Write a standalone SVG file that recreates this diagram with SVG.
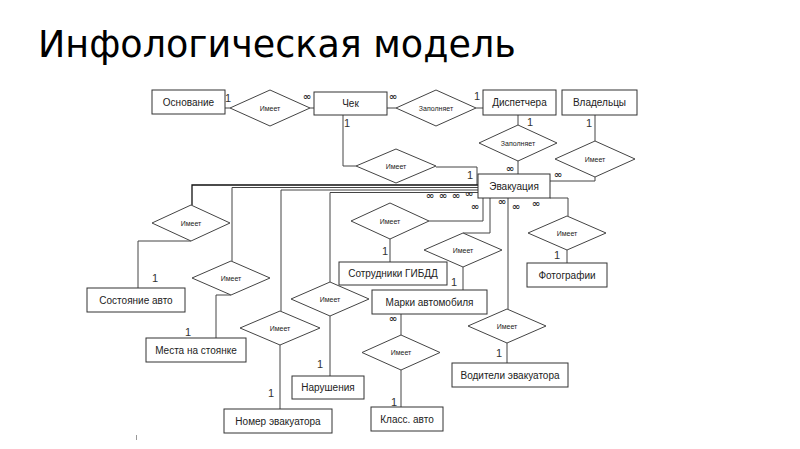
<svg xmlns="http://www.w3.org/2000/svg" width="800" height="449" viewBox="0 0 800 449">
<style>
.ent rect{fill:#fff;stroke:#333;stroke-width:1}
.ent text{font-family:"Liberation Sans",Arial,sans-serif;font-size:10px;fill:#222;text-anchor:middle}
.rel polygon{fill:#fff;stroke:#444;stroke-width:1}
.rel text{font-family:"Liberation Sans",Arial,sans-serif;font-size:7px;fill:#222;text-anchor:middle}
#connectors path{fill:none;stroke:#444;stroke-width:1}
.card{font-family:"Liberation Sans",Arial,sans-serif;font-size:11px;fill:#333;text-anchor:middle}
.many{font-family:"DejaVu Sans",sans-serif;font-size:10px;font-weight:bold;fill:#333;text-anchor:middle}
</style>
<rect width="800" height="449" fill="#fff"/>
<text x="38" y="57" font-family="DejaVu Sans, sans-serif" font-size="36.5" fill="#000">Инфологическая модель</text>

<g id="connectors">
<path d="M225,108 H230"/>
<path d="M310,108 H314"/>
<path d="M387,108 H396"/>
<path d="M476,108 H483"/>
<path d="M518,115 V125"/>
<path d="M518,161 V174"/>
<path d="M595,115 V141"/>
<path d="M595,177 V181 H550"/>
<path d="M343,115 V166 H356"/>
<path d="M436,167 H477 V185"/>
<path d="M478,185 H192 V205" style="stroke:#111;stroke-width:1.3"/>
<path d="M191,241 H138 V288"/>
<path d="M478,187.5 H232 V261"/>
<path d="M231,295 H216 V338"/>
<path d="M478,190 H281 V311"/>
<path d="M280,345 V409"/>
<path d="M478,192.5 H330 V282"/>
<path d="M330,316 V376"/>
<path d="M483,198 V221 H429"/>
<path d="M390,239 V262"/>
<path d="M490,198 V233 H463"/>
<path d="M463,267 V290"/>
<path d="M508,198 V309"/>
<path d="M507,343 V363"/>
<path d="M550,198 H568 V216"/>
<path d="M567,250 V263"/>
<path d="M401,314 V335"/>
<path d="M401,370 V407"/>
<path d="M136.5,435 V440" style="stroke:#999"/>
</g>

<g id="osnovanie" class="ent"><rect x="152" y="90" width="73" height="24"/><text x="188.5" y="105.5">Основание</text></g>
<g id="chek" class="ent"><rect x="314" y="92" width="73" height="23"/><text x="350.5" y="107">Чек</text></g>
<g id="dispetchera" class="ent"><rect x="483" y="90" width="73" height="25"/><text x="519.5" y="106">Диспетчера</text></g>
<g id="vladeltsy" class="ent"><rect x="562" y="90" width="75" height="25"/><text x="599.5" y="106">Владельцы</text></g>
<g id="evakuatsiya" class="ent"><rect x="478" y="174" width="72" height="24"/><text x="514" y="189.5">Эвакуация</text></g>
<g id="sotrudniki" class="ent"><rect x="339" y="262" width="108" height="23"/><text x="393" y="277">Сотрудники ГИБДД</text></g>
<g id="fotografii" class="ent"><rect x="527" y="263" width="80" height="24"/><text x="567" y="278.5">Фотографии</text></g>
<g id="marki" class="ent"><rect x="372" y="290" width="115" height="24"/><text x="429.5" y="305.5">Марки автомобиля</text></g>
<g id="klass" class="ent"><rect x="371" y="407" width="72" height="24"/><text x="407" y="422.5">Класс. авто</text></g>
<g id="voditeli" class="ent"><rect x="452" y="363" width="116" height="24"/><text x="510" y="378.5">Водители эвакуатора</text></g>
<g id="narusheniya" class="ent"><rect x="292" y="376" width="72" height="23"/><text x="328" y="391">Нарушения</text></g>
<g id="nomer" class="ent"><rect x="224" y="409" width="108" height="24"/><text x="278" y="424.5">Номер эвакуатора</text></g>
<g id="mesta" class="ent"><rect x="146" y="338" width="100" height="24"/><text x="196" y="353.5">Места на стоянке</text></g>
<g id="sostoyanie" class="ent"><rect x="87" y="288" width="98" height="24"/><text x="136" y="303.5">Состояние авто</text></g>

<g id="r1" class="rel"><polygon points="230,108 270,90 310,108 270,126"/><text x="270" y="110.5">Имеет</text></g>
<g id="r2" class="rel"><polygon points="396,108 436,90 476,108 436,126"/><text x="436" y="110.5">Заполняет</text></g>
<g id="r3" class="rel"><polygon points="479,143 518,125 557,143 518,161"/><text x="518" y="145.5">Заполняет</text></g>
<g id="r4" class="rel"><polygon points="555,159 595,141 635,159 595,177"/><text x="595" y="161.5">Имеет</text></g>
<g id="r5" class="rel"><polygon points="356,166 396,149 436,166 396,183"/><text x="396" y="168.5">Имеет</text></g>
<g id="r6" class="rel"><polygon points="152,223 191,205 230,223 191,241"/><text x="191" y="225.5">Имеет</text></g>
<g id="r7" class="rel"><polygon points="192,278 231,261 270,278 231,295"/><text x="231" y="280.5">Имеет</text></g>
<g id="r8" class="rel"><polygon points="240,328 280,311 320,328 280,345"/><text x="280" y="330.5">Имеет</text></g>
<g id="r9" class="rel"><polygon points="291,299 330,282 369,299 330,316"/><text x="330" y="301.5">Имеет</text></g>
<g id="r10" class="rel"><polygon points="351,221 390,203 429,221 390,239"/><text x="390" y="223.5">Имеет</text></g>
<g id="r11" class="rel"><polygon points="424,250 463,233 502,250 463,267"/><text x="463" y="252.5">Имеет</text></g>
<g id="r12" class="rel"><polygon points="468,326 507,309 546,326 507,343"/><text x="507" y="328.5">Имеет</text></g>
<g id="r13" class="rel"><polygon points="528,233 567,216 606,233 567,250"/><text x="567" y="235.5">Имеет</text></g>
<g id="r14" class="rel"><polygon points="362,352.5 401,335 440,352.5 401,370"/><text x="401" y="355">Имеет</text></g>

<g id="cardinalities">
<text class="card" x="228" y="102">1</text>
<text class="card" x="347" y="127">1</text>
<text class="card" x="477" y="100">1</text>
<text class="card" x="530" y="126">1</text>
<text class="card" x="589" y="127">1</text>
<text class="card" x="470" y="179">1</text>
<text class="card" x="385" y="255">1</text>
<text class="card" x="454" y="286">1</text>
<text class="card" x="557" y="259">1</text>
<text class="card" x="155" y="282">1</text>
<text class="card" x="188" y="336">1</text>
<text class="card" x="271" y="397">1</text>
<text class="card" x="320" y="368">1</text>
<text class="card" x="394" y="406">1</text>
<text class="card" x="499" y="357">1</text>
<text class="many" x="307" y="100">∞</text>
<text class="many" x="393" y="100">∞</text>
<text class="many" x="510" y="172">∞</text>
<text class="many" x="558" y="178">∞</text>
<text class="many" x="430" y="199">∞</text>
<text class="many" x="443" y="199">∞</text>
<text class="many" x="456" y="199">∞</text>
<text class="many" x="469" y="197">∞</text>
<text class="many" x="475" y="210">∞</text>
<text class="many" x="502" y="205">∞</text>
<text class="many" x="516" y="210">∞</text>
<text class="many" x="536" y="207">∞</text>
<text class="many" x="393" y="322">∞</text>
</g>
</svg>
